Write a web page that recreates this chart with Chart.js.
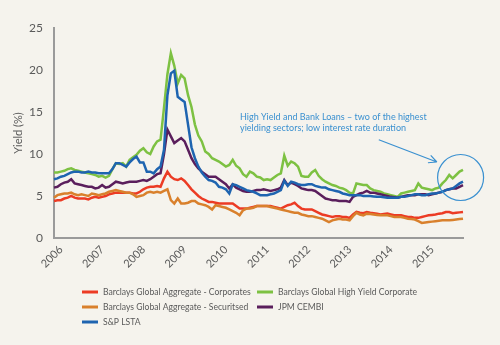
<!DOCTYPE html>
<html>
<head>
<meta charset="utf-8">
<script src="https://cdn.jsdelivr.net/npm/chart.js@4"></script>
<style>
  html, body { margin: 0; padding: 0; background: #f5f3ed; }
  #wrap { width: 500px; height: 345px; }
</style>
</head>
<body>
<div id="wrap"><canvas id="myChart" width="500" height="345"></canvas></div>
<script>
// years on the axis, monthly points Jan 2006 - Dec 2015
var years = ["2006", "2007", "2008", "2009", "2010", "2011", "2012", "2013", "2014", "2015"];
var yTicks = [0, 5, 10, 15, 20, 25];

var corporates = [
  4.4,4.5,4.5,4.7,4.8,5.0,4.8,4.7,4.7,4.7,4.6,4.8,
  4.9,4.8,4.9,5.0,5.2,5.3,5.4,5.4,5.4,5.4,5.4,5.3,
  5.3,5.5,5.8,6.0,6.1,6.1,6.2,6.1,7.1,7.9,7.3,7.0,
  6.9,7.1,6.8,6.3,5.8,5.4,5.0,4.7,4.5,4.3,4.3,4.2,
  4.1,4.1,4.1,4.1,4.1,3.8,3.5,3.5,3.5,3.6,3.7,3.8,
  3.8,3.8,3.8,3.8,3.7,3.6,3.5,3.7,3.9,4.0,4.2,3.8,
  3.5,3.4,3.4,3.4,3.2,3.0,2.8,2.7,2.6,2.5,2.6,2.6,
  2.5,2.5,2.4,2.8,3.1,3.0,2.95,3.1,3.0,2.95,2.9,2.8,
  2.85,2.9,2.8,2.7,2.7,2.7,2.6,2.5,2.5,2.4,2.4,2.5,
  2.6,2.7,2.75,2.8,2.9,2.95,3.1,3.1,2.95,3.0,3.05,3.1
];
var highYield = [
  7.8,7.8,7.9,8.0,8.2,8.3,8.1,8.0,7.9,7.8,7.7,7.6,
  7.5,7.3,7.4,7.2,7.4,8.2,8.9,8.8,8.9,8.5,9.3,9.6,
  9.9,10.4,10.7,10.2,10.0,10.9,11.5,11.7,15.5,19.5,22.0,20.5,
  18.4,19.4,19.0,17.0,15.6,13.5,12.2,11.5,10.3,10.0,9.5,9.3,
  9.1,8.8,8.5,8.7,9.3,8.6,8.3,7.6,7.3,7.9,7.7,7.3,
  7.2,6.9,7.0,6.9,7.2,7.5,7.7,9.8,8.6,9.1,8.9,8.5,
  7.4,7.3,7.3,7.8,8.1,7.4,7.0,6.7,6.5,6.3,6.2,6.0,
  5.9,5.7,5.4,5.3,6.5,6.4,6.3,6.3,5.9,5.7,5.6,5.5,
  5.3,5.2,5.1,5.0,4.9,5.3,5.4,5.5,5.6,5.7,6.5,6.0,
  5.9,5.8,5.7,5.9,6.0,6.5,6.9,7.5,7.1,7.5,7.9,8.1
];
var securitised = [
  4.8,5.1,5.2,5.3,5.3,5.4,5.2,5.1,5.2,5.1,5.0,5.3,
  5.2,5.1,5.2,5.3,5.5,5.6,5.7,5.6,5.5,5.4,5.4,5.2,
  4.9,5.0,5.1,5.4,5.5,5.4,5.5,5.4,5.6,5.8,4.5,4.1,
  4.7,4.1,4.1,4.2,4.4,4.4,4.1,4.0,3.9,3.7,3.4,3.9,
  3.8,3.7,3.6,3.4,3.2,3.0,2.7,3.3,3.5,3.5,3.6,3.8,
  3.8,3.8,3.8,3.7,3.6,3.5,3.4,3.3,3.2,3.1,3.0,3.0,
  2.8,2.7,2.6,2.6,2.5,2.4,2.3,2.1,1.9,2.1,2.2,2.3,
  2.2,2.2,2.1,2.6,3.0,2.8,2.7,2.9,2.85,2.8,2.75,2.7,
  2.7,2.7,2.6,2.5,2.5,2.5,2.4,2.3,2.25,2.2,2.0,1.8,
  1.85,1.9,1.95,2.0,2.05,2.1,2.1,2.1,2.15,2.2,2.25,2.3
];
var cembi = [
  6.0,6.1,6.4,6.6,6.7,7.0,6.5,6.4,6.3,6.2,6.1,6.1,
  5.9,6.0,6.3,6.0,6.1,6.4,6.7,6.6,6.5,6.6,6.7,6.7,
  6.7,6.8,6.9,6.8,7.0,7.3,7.6,7.7,10.0,12.9,12.1,11.3,
  11.6,11.9,11.5,10.5,9.5,8.8,8.3,7.9,7.6,7.3,7.3,7.3,
  7.0,6.7,6.4,5.9,6.4,6.0,5.8,5.6,5.5,5.5,5.6,5.7,
  5.7,5.8,5.7,5.6,5.7,5.8,6.0,6.9,6.3,6.6,6.4,6.2,
  5.9,5.8,5.7,5.7,5.6,5.3,5.0,4.7,4.6,4.5,4.5,4.4,
  4.4,4.4,4.3,4.9,5.1,5.3,5.4,5.6,5.4,5.4,5.3,5.2,
  5.1,5.0,4.9,4.85,4.8,4.9,5.0,5.1,5.1,5.1,5.2,5.2,
  5.2,5.1,5.2,5.3,5.4,5.5,5.7,5.8,5.9,5.9,6.1,6.3
];
var lsta = [
  7.0,7.1,7.3,7.4,7.6,7.8,7.9,7.9,7.8,7.8,7.9,7.8,
  7.8,7.7,7.7,7.7,7.7,8.2,8.9,8.9,8.7,8.5,9.0,9.4,
  9.7,9.0,9.0,7.9,7.9,7.7,8.2,8.5,10.5,17.0,19.6,19.9,
  16.8,16.5,16.2,13.5,10.8,9.5,8.5,7.8,7.3,6.9,6.8,6.6,
  6.1,6.0,5.8,5.3,6.4,6.3,6.1,5.9,5.7,5.6,5.5,5.3,
  5.1,5.1,5.1,5.2,5.3,5.5,5.7,6.8,6.2,6.7,6.6,6.4,
  6.3,6.3,6.4,6.4,6.2,6.1,6.0,6.0,5.8,5.7,5.6,5.5,
  5.3,5.2,5.1,5.1,5.1,5.1,5.0,5.0,5.0,4.95,4.9,4.9,
  4.85,4.8,4.8,4.8,4.8,4.9,4.9,5.0,5.1,5.2,5.2,5.1,
  5.1,5.2,5.3,5.3,5.4,5.5,5.7,5.8,5.9,6.2,6.5,6.7
];

var seriesNames = [
  "Barclays Global Aggregate - Corporates",
  "Barclays Global High Yield Corporate",
  "Barclays Global Aggregate - Securitsed",
  "JPM CEMBI",
  "S&P LSTA"
];
var seriesColors = ["#ec3b24", "#7dc142", "#d9802c", "#5a1e5c", "#1e64b0"];
var annotationLines = ["High Yield and Bank Loans \u2013 two of the highest", "yielding sectors; low interest rate duration"];

// one label per month, only januaries get shown
var labels = [];
years.forEach(function (y) {
  for (var m = 1; m <= 12; m++) labels.push(y + "-" + (m < 10 ? "0" + m : m));
});

var FONT = "Lato, sans-serif";
var TEXT = "#5a5a5a";
var BLUE_NOTE = "#3a90d0";

// legend in two columns under the plot
var gridLegend = {
  id: 'gridLegend',
  afterDraw: function (chart) {
    var ctx = chart.ctx;
    var cols = [82, 257], rows = [292, 307, 322];
    ctx.save();
    ctx.font = "8.6px " + FONT;
    ctx.textBaseline = "middle";
    ctx.fillStyle = TEXT;
    seriesNames.forEach(function (name, i) {
      var x = cols[i % 2], y = rows[Math.floor(i / 2)];
      ctx.strokeStyle = seriesColors[i];
      ctx.lineWidth = 3;
      ctx.beginPath();
      ctx.moveTo(x, y);
      ctx.lineTo(x + 16, y);
      ctx.stroke();
      ctx.fillText(name, x + 21, y);
    });
    ctx.restore();
  }
};

// callout: text, arrow and circle round the last months
var callout = {
  id: 'callout',
  afterDatasetsDraw: function (chart) {
    var ctx = chart.ctx, xs = chart.scales.x, ys = chart.scales.y;
    ctx.save();
    ctx.fillStyle = BLUE_NOTE;
    ctx.font = "9px " + FONT;
    ctx.textBaseline = "middle";
    ctx.fillText(annotationLines[0], 240, 117);
    ctx.fillText(annotationLines[1], 240, 128);

    var x1 = xs.getPixelForValue(94.5), y1 = ys.getPixelForValue(11.7);
    var x2 = xs.getPixelForValue(111.4), y2 = ys.getPixelForValue(9.05);
    ctx.strokeStyle = BLUE_NOTE;
    ctx.lineWidth = 1.2;
    ctx.beginPath();
    ctx.moveTo(x1, y1);
    ctx.lineTo(x2, y2);
    var a = Math.atan2(y2 - y1, x2 - x1);
    ctx.moveTo(x2, y2);
    ctx.lineTo(x2 - 9 * Math.cos(a - 0.45), y2 - 9 * Math.sin(a - 0.45));
    ctx.moveTo(x2, y2);
    ctx.lineTo(x2 - 9 * Math.cos(a + 0.45), y2 - 9 * Math.sin(a + 0.45));
    ctx.stroke();

    var cx = xs.getPixelForValue(118.3), cy = ys.getPixelForValue(7.2);
    ctx.beginPath();
    ctx.arc(cx, cy, 23, 0, Math.PI * 2);
    ctx.stroke();
    ctx.restore();
  }
};

function line(data, i, order) {
  return {
    label: seriesNames[i],
    data: data,
    borderColor: seriesColors[i],
    backgroundColor: seriesColors[i],
    borderWidth: 2.5,
    pointRadius: 0,
    tension: 0,
    order: order
  };
}

var config = {
  type: 'line',
  data: {
    labels: labels,
    datasets: [
      line(corporates, 0, 4),
      line(highYield, 1, 3),
      line(securitised, 2, 2),
      line(cembi, 3, 1),
      line(lsta, 4, 0)
    ]
  },
  options: {
    responsive: false,
    animation: false,
    layout: { padding: { left: 0, top: 28, right: 37, bottom: 67 } },
    plugins: {
      legend: { display: false },
      tooltip: { enabled: false }
    },
    scales: {
      x: {
        grid: { display: false, drawTicks: false },
        border: { display: true, color: "#9a9a9a", width: 2 },
        ticks: {
          autoSkip: false,
          minRotation: 45,
          maxRotation: 45,
          padding: 5,
          labelOffset: 7,
          color: TEXT,
          font: { family: FONT, size: 11 },
          callback: function (v, idx) {
            return idx % 12 === 0 ? years[idx / 12] : null;
          }
        },
        afterFit: function (s) { s.height = 40; }
      },
      y: {
        min: 0,
        max: 25,
        afterBuildTicks: function (s) { s.ticks = yTicks.map(function (v) { return { value: v }; }); },
        grid: { display: false, drawTicks: false },
        border: { display: true, color: "#9a9a9a", width: 2 },
        ticks: { padding: 11, color: TEXT, font: { family: FONT, size: 12 } },
        title: {
          display: true,
          text: "Yield (%)",
          color: TEXT,
          font: { family: FONT, size: 11 },
          padding: { top: 12, bottom: 0 }
        },
        afterFit: function (s) { s.width = 54; }
      }
    }
  },
  plugins: [gridLegend, callout]
};

var myChart = new Chart(document.getElementById('myChart'), config);
</script>
</body>
</html>
